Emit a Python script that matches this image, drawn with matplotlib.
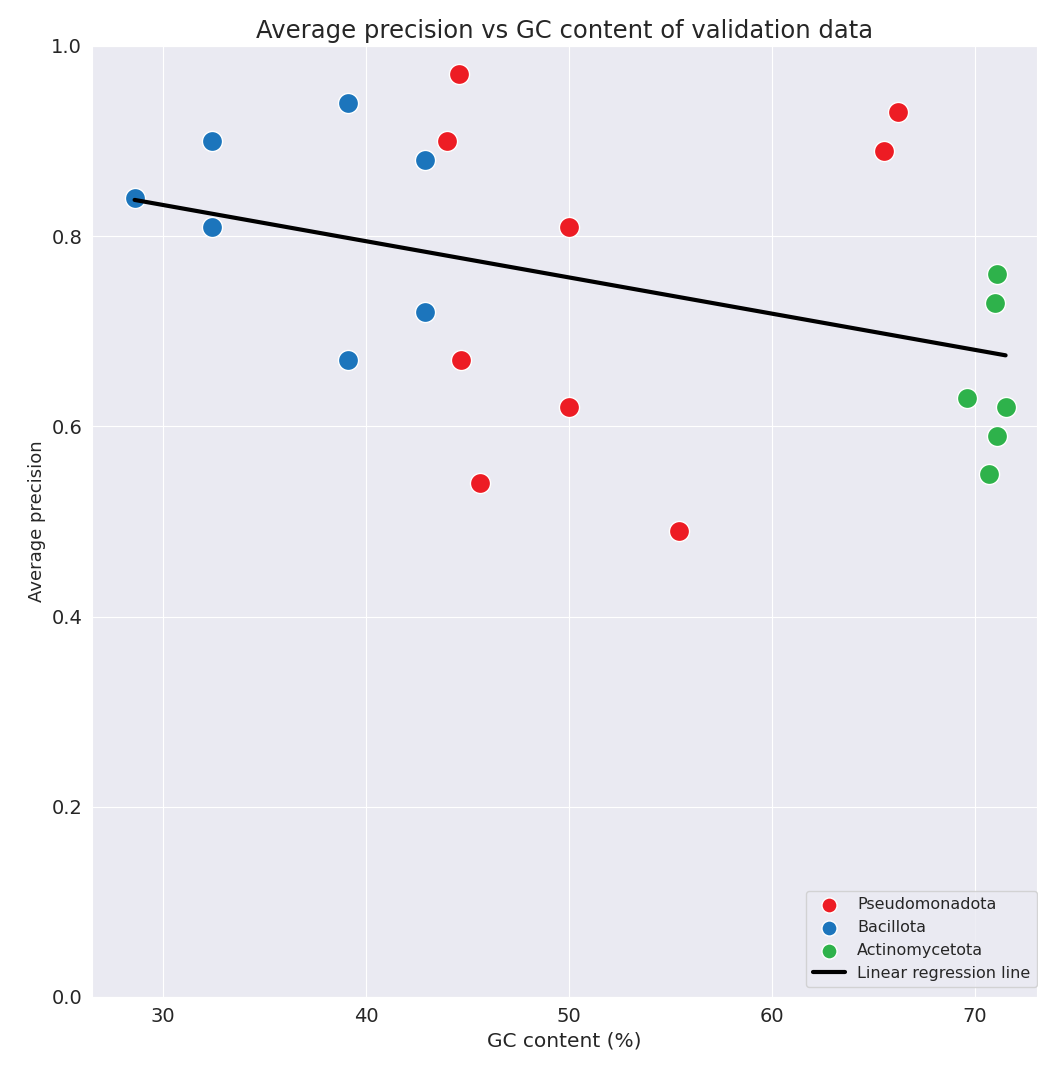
import numpy as np
import matplotlib as mpl
mpl.use('Agg')
import matplotlib.pyplot as plt
import seaborn as sns

# GC content (%) and average precision per validation genome, grouped by phylum
pseudo_gc = [44.6, 44.0, 44.7, 45.6, 50.0, 50.0, 55.4, 65.5, 66.2]
pseudo_ap = [0.97, 0.90, 0.67, 0.54, 0.81, 0.62, 0.49, 0.89, 0.93]

bacillota_gc = [28.6, 32.4, 32.4, 39.1, 39.1, 42.9, 42.9]
bacillota_ap = [0.84, 0.90, 0.81, 0.94, 0.67, 0.88, 0.72]

actino_gc = [71.1, 71.0, 69.6, 71.5, 71.1, 70.7]
actino_ap = [0.76, 0.73, 0.63, 0.62, 0.59, 0.55]

groups = ['Pseudomonadota', 'Bacillota', 'Actinomycetota']
colors = ['#ED1C24', '#1C75BC', '#2EB24B']

sns.set_style('darkgrid')

fig = plt.figure(figsize=(10.38, 10.68), dpi=100)
ax = fig.add_axes([0.0886, 0.0665, 0.9105, 0.8905])

for name, col, gc, ap in zip(groups, colors,
                             [pseudo_gc, bacillota_gc, actino_gc],
                             [pseudo_ap, bacillota_ap, actino_ap]):
    ax.scatter(gc, ap, s=210, color=col, edgecolor='white', linewidth=1,
               label=name, zorder=3)

# least-squares fit over all genomes
all_gc = np.array(pseudo_gc + bacillota_gc + actino_gc)
all_ap = np.array(pseudo_ap + bacillota_ap + actino_ap)
slope, intercept = np.polyfit(all_gc, all_ap, 1)
xs = np.array([all_gc.min(), all_gc.max()])
ax.plot(xs, slope * xs + intercept, color='black', linewidth=3,
        label='Linear regression line', zorder=4)

ax.set_xlim(26.5, 73.05)
ax.set_ylim(0, 1)
ax.set_title('Average precision vs GC content of validation data', fontsize=17.5)
ax.set_xlabel('GC content (%)', fontsize=14.5)
ax.set_ylabel('Average precision', fontsize=13)
ax.tick_params(labelsize=14)
ax.legend(loc='lower right', bbox_to_anchor=(1.01, 0.0), fontsize=11.5,
          frameon=True, markerscale=0.75, borderaxespad=0.6)

plt.savefig('out.png')
